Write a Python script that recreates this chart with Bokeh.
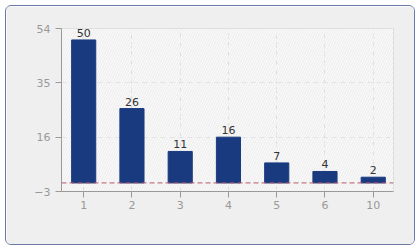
from bokeh.plotting import figure
from bokeh.models import ColumnDataSource, Span, Label, FixedTicker, Range1d, LabelSet
from bokeh.core.properties import value
from bokeh.embed import file_html
from bokeh.resources import INLINE

categories = ["1", "2", "3", "4", "5", "6", "10"]
values = [50, 26, 11, 16, 7, 4, 2]
y_ticks = [-3, 16, 35, 54]

idx = list(range(len(categories)))
src = ColumnDataSource(dict(x=idx, top=values, lab=[str(v) for v in values]))

p = figure(width=410, height=240, output_backend="svg", toolbar_location=None,
           x_range=Range1d(-0.46, len(categories) - 1 + 0.42),
           y_range=Range1d(-3, 54),
           min_border_left=55, min_border_right=23, min_border_top=22, min_border_bottom=55)
p.styles = {"margin": "5px 0 0 5px", "border": "1px solid #6b79a6", "border-radius": "6px",
            "overflow": "hidden", "box-sizing": "border-box"}
p.border_fill_color = "#efefef"
p.background_fill_color = "#f9f9f9"
p.outline_line_color = "#dddddd"

# faint hatched background
p.quad(left=-0.46, right=len(categories) - 1 + 0.42, bottom=-3, top=54,
       fill_alpha=0, line_alpha=0, hatch_pattern="right_diagonal_line",
       hatch_color="#ececec", hatch_scale=5, hatch_weight=1)

p.vbar(x="x", top="top", bottom=0, width=0.5, source=src, fill_color="#1a3a80", line_color="#1a3a80")

labels = LabelSet(x="x", y="top", text="lab", source=src, text_align="center", text_baseline="bottom",
                  y_offset=3, text_font_size="11px", text_color="#333333", text_font=value("DejaVu Sans"))
p.add_layout(labels)

zero = Span(location=0, dimension="width", line_color="#b5586a", line_dash="5 3", line_width=1)
p.add_layout(zero)
p.add_layout(Label(x=len(categories) - 1 + 0.42, y=0, text="0", x_offset=5, text_baseline="middle",
                   text_font_size="10px", text_color="#b5586a", text_font="DejaVu Sans"))

p.xaxis.ticker = FixedTicker(ticks=idx)
p.xaxis.major_label_overrides = {i: c for i, c in zip(idx, categories)}
p.yaxis.ticker = FixedTicker(ticks=y_ticks)

for ax in (p.xaxis, p.yaxis):
    ax.axis_line_color = "#999999"
    ax.major_tick_line_color = "#999999"
    ax.major_tick_out = 6
    ax.major_tick_in = 0
    ax.minor_tick_line_color = None
    ax.major_label_text_color = "#999999"
    ax.major_label_text_font_size = "11px"
    ax.major_label_text_font = "DejaVu Sans"
p.yaxis.major_label_standoff = 5
p.xaxis.major_label_standoff = 3

p.xgrid.ticker = FixedTicker(ticks=idx)
p.ygrid.ticker = FixedTicker(ticks=[16, 35])
for g in (p.xgrid, p.ygrid):
    g.grid_line_color = "#dddddd"
    g.grid_line_dash = "5 4"

open("out.html", "w").write(file_html(p, INLINE))
